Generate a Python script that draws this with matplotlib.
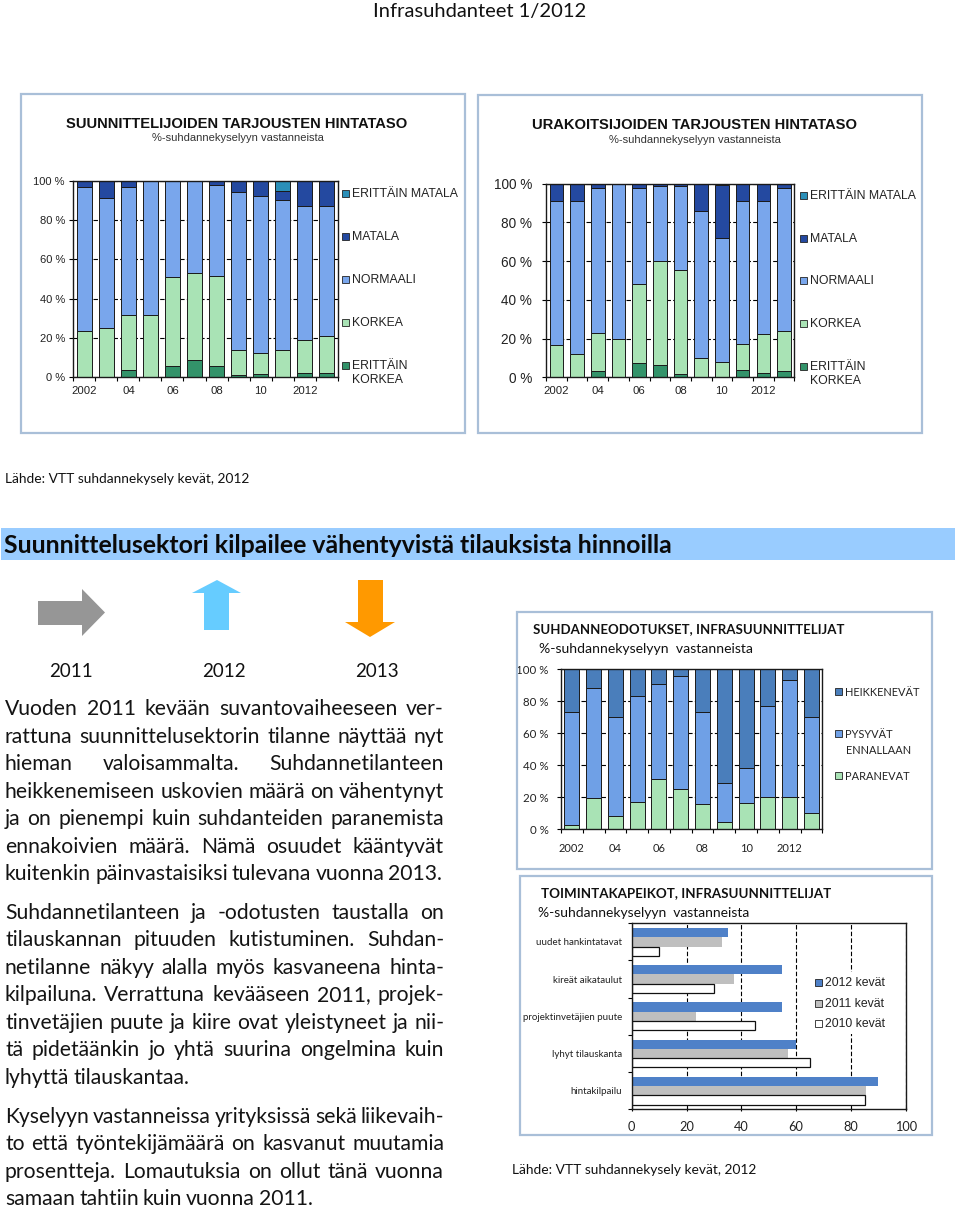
import matplotlib
matplotlib.use('Agg')
import matplotlib.pyplot as plt
from matplotlib.patches import Rectangle, Polygon
import numpy as np

W,H=960,1208
ARIAL='Liberation Sans'
CAL='Lato'

# data, cumulative tops
years=['2002','','04','','06','','08','','10','','2012','']
a_ek=[0,0,3.5,0,6,9,5.5,1,1.5,0,2,2]
a_k=[23.5,25,31.5,31.5,51,53,51.5,14,12.5,14,19,21]
a_n=[97,91,97,100,100,100,98,94,92,90,87,87]
a_m=[100,100,100,100,100,100,100,100,100,95,100,100]
a_em=[100,100,100,100,100,100,100,100,100,100,100,100]
b_ek=[0,0,3.5,0,7.5,6.5,1.5,0,0,4,2,3]
b_k=[16.5,12,23,20,48,60,55.5,10,8,17,22.5,24]
b_n=[91,91,98,100,98,99,99,86,72,91,91,98]
b_m=[100,100,100,100,100,100,100,100,99.5,100,100,100]
c_par=[2.5,19.5,8,17,31.5,25,15.5,4.5,16.5,20,20,10]
c_pys=[73.5,88.5,70,83,91,95.5,73.5,29,38.5,77,93.5,70]
c_hei=[100]*12
d_cats=['uudet hankintatavat','kireät aikataulut','projektinvetäjien puute','lyhyt tilauskanta','hintakilpailu']
d_2012=[35,55,55,60,90]
d_2011=[33,37.5,23.5,57,85.5]
d_2010=[10,30,45,65,85]

para=[
 ('Vuoden 2011 kevään suvantovaiheeseen ver-',1),
 ('rattuna suunnittelusektorin tilanne näyttää nyt',1),
 ('hieman valoisammalta. Suhdannetilanteen',1),
 ('heikkenemiseen uskovien määrä on vähentynyt',1),
 ('ja on pienempi kuin suhdanteiden paranemista',1),
 ('ennakoivien määrä. Nämä osuudet kääntyvät',1),
 ('kuitenkin päinvastaisiksi tulevana vuonna 2013.',0),
 ('Suhdannetilanteen ja -odotusten taustalla on',1),
 ('tilauskannan pituuden kutistuminen. Suhdan-',1),
 ('netilanne näkyy alalla myös kasvaneena hinta-',1),
 ('kilpailuna. Verrattuna kevääseen 2011, projek-',1),
 ('tinvetäjien puute ja kiire ovat yleistyneet ja nii-',1),
 ('tä pidetäänkin jo yhtä suurina ongelmina kuin',1),
 ('lyhyttä tilauskantaa.',0),
 ('Kyselyyn vastanneissa yrityksissä sekä liikevaih-',1),
 ('to että työntekijämäärä on kasvanut muutamia',1),
 ('prosentteja. Lomautuksia on ollut tänä vuonna',1),
 ('samaan tahtiin kuin vuonna 2011.',0)]
para_y=[708,736,763,791,818,846,873,912,939,967,994,1022,1049,1077,1116,1143,1171,1198]

GREEN_D='#33936A';GREEN='#A9E3B5';BLUE='#79A6EC';NAVY='#2449A0';TEAL='#2A8FB8'
FRAME='#A9BFD8'

fig=plt.figure(figsize=(W/100,H/100),dpi=100)

def fx(x): return x/W
def fy(y): return 1-y/H
def T(x,y,s,size,font=CAL,**kw):
    kw.setdefault('va','center')
    return fig.text(fx(x),fy(y+1.2),s,fontsize=size,family=font,color=kw.pop('color','#111111'),**kw)
def axpx(l,t,r,b):
    return fig.add_axes([fx(l),fy(b),(r-l)/W,(b-t)/H])
def frame(l,t,r,b):
    fig.add_artist(Rectangle((fx(l),fy(b)),(r-l)/W,(b-t)/H,transform=fig.transFigure,fill=False,ec=FRAME,lw=1.6))
def poly(pts,color):
    fig.add_artist(Polygon([(fx(x),fy(y)) for x,y in pts],closed=True,transform=fig.transFigure,fc=color,ec='none'))
def legend(x,ys,labels,colors,size,font,s=7):
    for y,lab,c in zip(ys,labels,colors):
        if c is not None:
            fig.add_artist(Rectangle((fx(x),fy(y+s/2)),s/W,s/H,transform=fig.transFigure,fc=c,ec='#222222',lw=.6))
        T(x+s+3,y,lab,size,font,color='#222222')

def stacked(ax,tops,colors,width,ysize,xsize,font,ypad=3,xpad=6):
    x=np.arange(len(years))
    ax.set_axisbelow(True)
    ax.yaxis.grid(True,color='black',ls=(0,(4,2)),lw=.8)
    bottom=np.zeros(len(x))
    for top,c in zip(tops,colors):
        top=np.array(top,float)
        ax.bar(x,top-bottom,width,bottom=bottom,color=c,ec='#1a1a1a',lw=.7)
        bottom=top
    ax.set_xlim(-.5,11.5);ax.set_ylim(0,100)
    ax.set_yticks(range(0,101,20))
    ax.set_yticklabels(['%d %%'%v for v in range(0,101,20)],fontsize=ysize,family=font,color='#222222')
    ax.set_xticks(x[::2]+.0)
    ax.set_xticklabels([years[i] for i in x[::2]],fontsize=xsize,family=font,color='#222222')
    ax.set_xticks(np.arange(-.5,12),minor=True)
    ax.tick_params(axis='x',which='major',length=0,pad=xpad)
    ax.tick_params(axis='x',which='minor',length=3,width=.8)
    ax.tick_params(axis='y',length=3,width=.8,pad=ypad)
    for sp in ax.spines.values():
        sp.set_linewidth(1);sp.set_color('#1a1a1a')

# header
T(480,10,'Infrasuhdanteet 1/2012',14.5,ha='center')

# chart 1
frame(21,94,465,433)
T(237,123,'SUUNNITTELIJOIDEN TARJOUSTEN HINTATASO',10.65,ARIAL,ha='center',weight='bold')
T(238,137,'%-suhdannekyselyyn vastanneista',8,ARIAL,ha='center',color='#333333')
ax=axpx(73.3,180.7,337.7,377.3)
stacked(ax,[a_ek,a_k,a_n,a_m,a_em],[GREEN_D,GREEN,BLUE,NAVY,TEAL],.67,8,8.2,ARIAL)
leg5=['ERITTÄIN MATALA','MATALA','NORMAALI','KORKEA','ERITTÄIN\nKORKEA']
legend(342,[193,236,279,322,371.5],leg5,[TEAL,NAVY,BLUE,GREEN,None],8.8,ARIAL)
fig.add_artist(Rectangle((fx(342),fy(368.5)),7/W,7/H,transform=fig.transFigure,fc=GREEN_D,ec='#222222',lw=.6))

# chart 2
frame(478,95,922,433)
T(695,124,'URAKOITSIJOIDEN TARJOUSTEN HINTATASO',10.6,ARIAL,ha='center',weight='bold')
T(695,139,'%-suhdannekyselyyn vastanneista',8,ARIAL,ha='center',color='#333333')
ax=axpx(546,183.7,794.4,377.3)
stacked(ax,[b_ek,b_k,b_n,b_m],[GREEN_D,GREEN,BLUE,NAVY],.66,9.8,8.2,ARIAL,ypad=7)
legend(800,[195,238,280,323,372.5],leg5,[TEAL,NAVY,BLUE,GREEN,None],8.8,ARIAL)
fig.add_artist(Rectangle((fx(800),fy(369.5)),7/W,7/H,transform=fig.transFigure,fc=GREEN_D,ec='#222222',lw=.6))

T(5,478,'Lähde: VTT suhdannekysely kevät, 2012',9.9)

# section heading
fig.add_artist(Rectangle((fx(1),fy(560)),954/W,32/H,transform=fig.transFigure,fc='#99CCFF',ec='none'))
T(4,544,'Suunnittelusektori kilpailee vähentyvistä tilauksista hinnoilla',17.9,weight='bold',color='#0a0a0a')

# arrows
poly([(38,601),(82,601),(82,589),(105,612.5),(82,636),(82,625),(38,625)],'#969696')
poly([(217,580),(241,593),(229,593),(229,630),(204,630),(204,593),(192,593)],'#66CCFF')
poly([(358,580),(383,580),(383,622),(395,622),(370,637),(345,622),(358,622)],'#FF9900')
for x,s in zip([71,224,377],['2011','2012','2013']):
    T(x,670,s,13.5,ha='center')

# body, justified by hand to x=5..444
rend=fig.canvas.get_renderer()
for (line,just),y in zip(para,para_y):
    words=line.split(' ')
    arts=[T(5,y,w,15.2,color='#141414') for w in words]
    ws=[a.get_window_extent(rend).width for a in arts]
    if just and len(words)>1:
        gap=(439-sum(ws))/(len(words)-1)
    else:
        gap=4.0
    x=5
    for a,w in zip(arts,ws):
        a.set_x(fx(x))
        x+=w+gap

# chart 3
frame(517,612,932,869)
T(533,628,'SUHDANNEODOTUKSET, INFRASUUNNITTELIJAT',9.5,weight='bold')
T(539,648,'%-suhdannekyselyyn  vastanneista',10.1)
ax=axpx(561,669.3,822.3,829)
stacked(ax,[c_par,c_pys,c_hei],[GREEN,'#6FA0E6','#4A7EBB'],.69,8.3,8,CAL,ypad=6,xpad=10)
legend(835,[691,733,775],['HEIKKENEVÄT','PYSYVÄT','PARANEVAT'],['#4A7EBB','#6FA0E6',GREEN],7.9,CAL)
T(846,749,'ENNALLAAN',7.9,color='#222222')

# chart 4
frame(520,876,932,1135)
T(541,892,'TOIMINTAKAPEIKOT, INFRASUUNNITTELIJAT',9.6,weight='bold')
T(538,912,'%-suhdannekyselyyn  vastanneista',10)
ax=axpx(631.7,923.3,905.7,1109.3)
y=np.arange(len(d_cats))
ax.set_axisbelow(True)
ax.xaxis.grid(True,color='black',ls=(0,(4,2)),lw=.8)
h=.25
ax.barh(y-h,d_2012,h,color='#4F81C8')
ax.barh(y,d_2011,h,color='#BFBFBF')
ax.barh(y+h,d_2010,h,color='white',ec='#111111',lw=.9)
ax.set_xlim(0,100);ax.set_ylim(4.5,-.5)
ax.set_xticks(range(0,101,20))
ax.tick_params(axis='x',labelsize=9.2,length=3,width=.8,pad=7,direction='inout')
for l in ax.get_xticklabels(): l.set_family(CAL);l.set_color('#222222')
ax.set_yticks(y);ax.set_yticklabels(d_cats,fontsize=7,family=CAL,color='#222222')
ax.set_yticks(np.arange(-.5,5),minor=True)
ax.tick_params(axis='y',which='major',length=0,pad=7)
ax.tick_params(axis='y',which='minor',length=3,width=.8)
for sp in ax.spines.values():
    sp.set_linewidth(1);sp.set_color('#1a1a1a')
fig.add_artist(Rectangle((fx(808),fy(1034)),77/W,62/H,transform=fig.transFigure,fc='white',ec='none'))
legend(815,[982,1003,1023],['2012 kevät','2011 kevät','2010 kevät'],['#4F81C8','#BFBFBF','white'],8.8,ARIAL)

T(512,1169,'Lähde: VTT suhdannekysely kevät, 2012',9.9)

fig.savefig('out.png',dpi=100)
